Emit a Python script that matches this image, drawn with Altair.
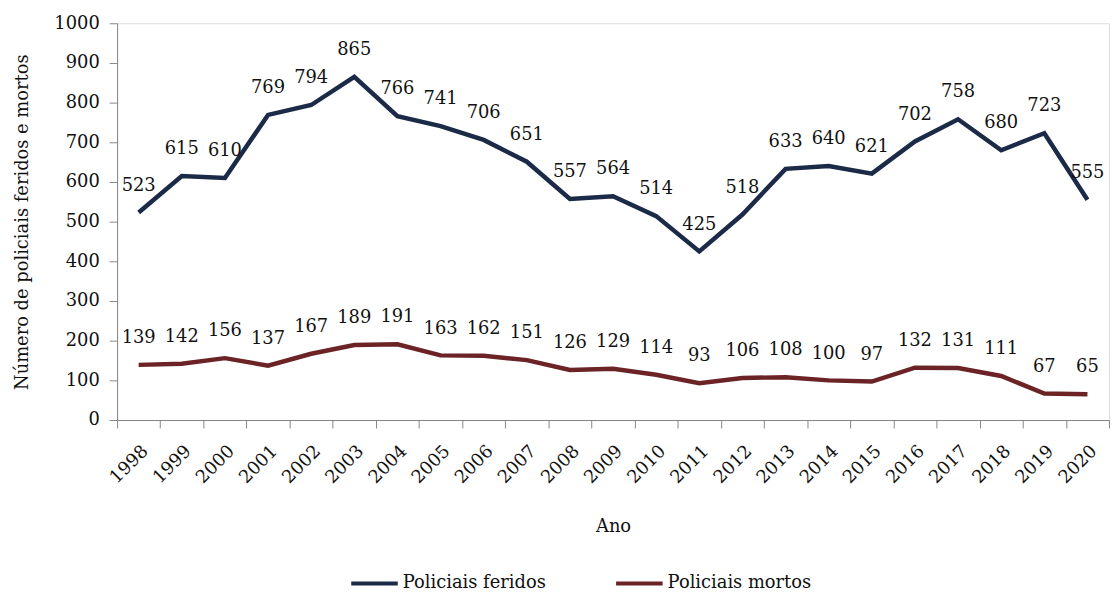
import altair as alt
import pandas as pd

anos = [str(a) for a in range(1998, 2021)]
feridos = [523, 615, 610, 769, 794, 865, 766, 741, 706, 651, 557, 564, 514, 425,
           518, 633, 640, 621, 702, 758, 680, 723, 555]
mortos = [139, 142, 156, 137, 167, 189, 191, 163, 162, 151, 126, 129, 114, 93,
          106, 108, 100, 97, 132, 131, 111, 67, 65]
series = ["Policiais feridos", "Policiais mortos"]
cores = ["#1B2A47", "#6B2325"]

rows = []
for i, a in enumerate(anos):
    rows.append({"Ano": a, "Serie": series[0], "Valor": feridos[i]})
    rows.append({"Ano": a, "Serie": series[1], "Valor": mortos[i]})
df = pd.DataFrame(rows)

FONT = "DejaVu Serif"
FS = 18

x = alt.X("Ano:N", sort=anos, bandPosition=0.5,
          scale=alt.Scale(type="band", paddingInner=0, paddingOuter=0),
          axis=alt.Axis(title="Ano", labelAngle=-45, tickBand="extent",
                        labelFontSize=FS, titleFontSize=FS, titleFontWeight="normal",
                        titlePadding=31, labelPadding=14, tickSize=8,
                        domainColor="#868686", tickColor="#868686", labelColor="#111111",
                        titleColor="#111111", labelFont=FONT, titleFont=FONT))
y = alt.Y("Valor:Q",
          scale=alt.Scale(domain=[0, 1000], nice=False),
          axis=alt.Axis(title="Número de policiais feridos e mortos", values=list(range(0, 1001, 100)),
                        format="d", grid=False, labelFontSize=FS, titleFontSize=FS,
                        titleFontWeight="normal",
                        tickSize=8, labelPadding=10, titlePadding=23,
                        domainColor="#868686", tickColor="#868686", labelColor="#111111",
                        titleColor="#111111", labelFont=FONT, titleFont=FONT))
color = alt.Color("Serie:N", scale=alt.Scale(domain=series, range=cores),
                  legend=alt.Legend(title=None, orient="none", legendX=234, legendY=539,
                                    direction="horizontal", symbolType="stroke",
                                    symbolStrokeWidth=4, symbolSize=2200, labelFontSize=FS,
                                    labelFont=FONT, labelColor="#111111", labelOffset=3,
                                    columnPadding=62))

base = alt.Chart(df)
lines = base.mark_line(strokeWidth=4.5, strokeJoin="miter").encode(x=x, y=y, color=color)
labels = base.mark_text(fontSize=FS, font=FONT, dy=-27, baseline="middle", color="#111111").encode(
    x=x, y=y, text="Valor:Q", detail="Serie:N")

chart = (lines + labels).properties(
    width=1000, height=400,
    padding={"left": 5, "top": 4, "right": 0, "bottom": 0},
).configure_view(stroke=None).configure(background="white")

chart.save("out.html", embed_options={"renderer": "svg", "actions": False})
